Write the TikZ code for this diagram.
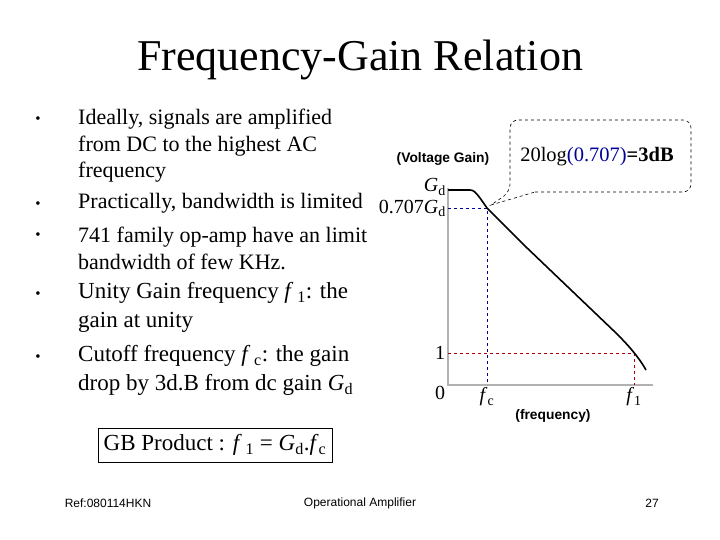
\documentclass[tikz,border=0pt]{standalone}
\usepackage{fontspec}
\setmainfont{Liberation Serif}
\newfontfamily\arial{Liberation Sans}
\begin{document}
\begin{tikzpicture}[x=1pt,y=-1pt,
 txt/.style={inner sep=0pt,anchor=west,align=left},
 bul/.style={inner sep=0pt,font=\fontsize{15}{16}\selectfont},
 lab/.style={inner sep=0pt,font=\fontsize{20}{21}\selectfont},
 foot/.style={inner sep=0pt,font=\arial\fontsize{12}{13}\selectfont}]
\useasboundingbox (0,0) rectangle (720,540);
\node[inner sep=0pt,font=\fontsize{44}{48}\selectfont] (title) at (360,60) {Frequency-Gain Relation};
% bullets
\foreach \n/\y in {b1/120,b2/205,b3/236,b4/295,b5/358}{\node[bul] (\n) at (38,\y) {•};}
\begin{scope}[every node/.append style={txt,font=\fontsize{22}{26.5}\selectfont}]
\node (t1) at (78,146) {Ideally, signals are amplified\\from DC to the highest AC\\frequency};
\node (t2) at (78,203) {Practically, bandwidth is limited};
\node (t3) at (78,248.5) {741 family op-amp have an limit\\bandwidth of few KHz.};
\end{scope}
\begin{scope}[every node/.append style={txt,font=\fontsize{23}{29}\selectfont}]
\node (t4) at (78,307.5) {Unity Gain frequency \textit{f}\,\textsubscript{1}: the\\gain at unity};
\node (t5) at (78,370.5) {Cutoff frequency \textit{f}\,\textsubscript{c}: the gain\\drop by 3d.B from dc gain \textit{G}\textsubscript{d}};
\end{scope}
% graph
\coordinate (o) at (448,385);
\coordinate (top) at (448,188);
\coordinate (xe) at (653,385);
\draw[gray!60,line width=1.2pt] (top) -- (o) -- (xe);
\coordinate (c1) at (487,208);
\coordinate (c2) at (634,353);
\draw[blue!60!black,dashed,line width=0.6pt] (448,208) -- (c1) -- (487,385);
\draw[red!70!black,dashed,line width=0.6pt] (448,353) -- (c2) -- (634,385);
\draw[line width=1.6pt] (448,190) -- (470,190) .. controls (474,190) and (476,193) .. (480,198)
 -- (c1) -- (525,246) -- (616,333) .. controls (628,345) and (638,356) .. (646,370);
\node[lab,anchor=east] (gd) at (446,187) {\textit{G}\textsubscript{d}};
\node[lab,anchor=east] (g707) at (446,208) {0.707\textit{G}\textsubscript{d}};
\node[lab] (one) at (440,353) {1};
\node[lab] (zero) at (440,393) {0};
\node[lab] (fc) at (487,397) {\textit{f}\textsubscript{c}};
\node[lab] (f1) at (634,397) {\textit{f}\textsubscript{1}};
\node[inner sep=0pt,font=\arial\bfseries\fontsize{13.8}{14}\selectfont] (vg) at (443,159) {(Voltage Gain)};
\node[inner sep=0pt,font=\arial\bfseries\fontsize{13.8}{14}\selectfont] (fr) at (553,416) {(frequency)};
% callout
\draw[dashed,line width=0.6pt,fill=white,rounded corners=8pt] (535,192) -- (691,192) -- (691,120) -- (510,120) -- (510,192) [sharp corners] -- (491,205) -- (535,192);
\node[inner sep=0pt,font=\fontsize{20.5}{22}\selectfont] (call) at (597,157) {20log\textcolor{blue!60!black}{(0.707)}\textbf{=3dB}};
% GB
\node[draw,line width=0.6pt,minimum width=234pt,minimum height=34pt,inner sep=0pt,font=\fontsize{23}{25}\selectfont] (gb) at (215,445) {GB Product : \textit{f}\,\textsubscript{1} = \textit{G}\textsubscript{d}.\textit{f}\textsubscript{c}};
\node[foot] (ref) at (108,503) {Ref:080114HKN};
\node[foot] (oa) at (360,503) {Operational Amplifier};
\node[foot] (pg) at (652,503) {27};
\end{tikzpicture}
\end{document}
